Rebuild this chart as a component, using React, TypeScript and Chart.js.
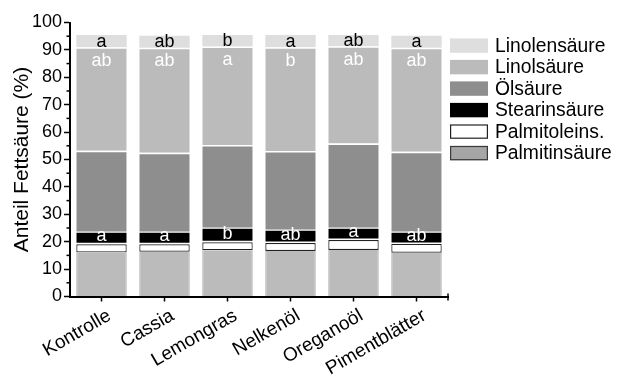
import React, { useEffect, useRef } from 'react';
import { Chart, registerables } from 'chart.js';

Chart.register(...registerables);

const FONT = "'Liberation Sans', Arial, Helvetica, sans-serif";

// ---- data ----
const categories = ['Kontrolle', 'Cassia', 'Lemongras', 'Nelkenöl', 'Oreganoöl', 'Pimentblätter'];
const palmitin = [16.1, 16.35, 16.9, 16.6, 17.0, 16.0];
const palmitolein = [2.95, 2.7, 2.9, 2.9, 3.6, 3.2];
const stearin = [4.6, 4.6, 5.3, 4.9, 4.5, 4.45];
const oelsaeure = [29.5, 28.85, 30.2, 28.7, 30.7, 29.15];
const linolsaeure = [37.8, 38.3, 35.9, 37.9, 35.5, 38.0];
const linolensaeure = [4.5, 4.4, 4.2, 4.4, 4.1, 4.4];

const linolenLetters = ['a', 'ab', 'b', 'a', 'ab', 'a'];
const linolLetters = ['ab', 'ab', 'a', 'b', 'ab', 'ab'];
const stearinLetters = ['a', 'a', 'b', 'ab', 'a', 'ab'];

const yTicks = [0, 10, 20, 30, 40, 50, 60, 70, 80, 90, 100];

const legendItems = [
  { label: 'Linolensäure', fill: '#dedede', stroke: '#dedede' },
  { label: 'Linolsäure', fill: '#bbbbbb', stroke: '#bbbbbb' },
  { label: 'Ölsäure', fill: '#8e8e8e', stroke: '#8e8e8e' },
  { label: 'Stearinsäure', fill: '#000000', stroke: '#000000' },
  { label: 'Palmitoleins.', fill: '#ffffff', stroke: '#222222' },
  { label: 'Palmitinsäure', fill: '#a6a6a6', stroke: '#3a3a3a' },
];

const letterPlugin = {
  id: 'letters',
  afterDatasetsDraw(chart: any) {
    const ctx = chart.ctx;
    ctx.save();
    ctx.font = `18px ${FONT}`;
    ctx.textAlign = 'center';
    ctx.textBaseline = 'alphabetic';
    const drawSet = (dsIndex: number, letters: string[], color: string, yFn: (el: any) => number) => {
      const meta = chart.getDatasetMeta(dsIndex);
      ctx.fillStyle = color;
      meta.data.forEach((el: any, i: number) => {
        ctx.fillText(letters[i], el.x, yFn(el));
      });
    };
    drawSet(5, linolenLetters, '#000', (el) => el.base - 0.5);
    drawSet(4, linolLetters, '#fff', (el) => el.y + 18.5);
    drawSet(2, stearinLetters, '#fff', (el) => el.base - 3);
    ctx.restore();
  },
};

const axisExtrasPlugin = {
  id: 'axisExtras',
  afterDraw(chart: any) {
    const ctx = chart.ctx;
    const y = chart.scales.y;
    const area = chart.chartArea;
    ctx.save();
    ctx.strokeStyle = '#000';
    ctx.lineWidth = 1.5;
    for (let i = 0; i < yTicks.length - 1; i++) {
      const v = (yTicks[i] + yTicks[i + 1]) / 2;
      const py = y.getPixelForValue(v);
      ctx.beginPath();
      ctx.moveTo(area.left - 3.5, py);
      ctx.lineTo(area.left, py);
      ctx.stroke();
    }
    // end cap of x axis
    ctx.beginPath();
    ctx.moveTo(area.right, area.bottom - 3);
    ctx.lineTo(area.right, area.bottom + 4);
    ctx.stroke();

    // legend
    const boxX = 450;
    const boxW = 38;
    const boxH = 14.4;
    ctx.font = `19.3px ${FONT}`;
    ctx.textAlign = 'left';
    ctx.textBaseline = 'alphabetic';
    legendItems.forEach((it, i) => {
      const top = 38.4 + i * 21.5;
      ctx.fillStyle = it.fill;
      ctx.fillRect(boxX, top, boxW, boxH);
      if (it.stroke !== it.fill) {
        ctx.strokeStyle = it.stroke;
        ctx.lineWidth = 1.2;
        ctx.strokeRect(boxX + 0.6, top + 0.6, boxW - 1.2, boxH - 1.2);
      }
      ctx.fillStyle = '#000';
      ctx.fillText(it.label, 495, top + 13.4);
    });
    ctx.restore();
  },
};

export default function App() {
  const ref = useRef<HTMLCanvasElement>(null);

  useEffect(() => {
    const canvas = ref.current;
    if (!canvas) return;
    const chart = new Chart(canvas, {
      type: 'bar',
      data: {
        labels: categories,
        datasets: [
          {
            label: 'Palmitinsäure',
            data: palmitin,
            backgroundColor: '#bbbbbb',
            borderColor: '#a2a2a2',
            borderWidth: { left: 1, right: 1, top: 0, bottom: 0 },
            borderSkipped: false,
          },
          {
            label: 'Palmitoleins.',
            data: palmitolein,
            backgroundColor: '#ffffff',
            borderColor: '#222222',
            borderWidth: 1.2,
            borderSkipped: false,
          },
          {
            label: 'Stearinsäure',
            data: stearin,
            backgroundColor: '#000000',
            borderColor: '#ffffff',
            borderWidth: { top: 1, bottom: 1.5, left: 0, right: 0 },
            borderSkipped: false,
          },
          {
            label: 'Ölsäure',
            data: oelsaeure,
            backgroundColor: '#8e8e8e',
            borderColor: '#ffffff',
            borderWidth: { top: 1.5, bottom: 0, left: 0, right: 0 },
            borderSkipped: false,
          },
          {
            label: 'Linolsäure',
            data: linolsaeure,
            backgroundColor: '#bbbbbb',
            borderColor: '#ffffff',
            borderWidth: { top: 1.5, bottom: 0, left: 0, right: 0 },
            borderSkipped: false,
          },
          {
            label: 'Linolensäure',
            data: linolensaeure,
            backgroundColor: '#dedede',
            borderColor: '#ffffff',
            borderWidth: { top: 0, bottom: 0, left: 0, right: 0 },
            borderSkipped: false,
          },
        ],
      },
      options: {
        responsive: false,
        animation: false,
        devicePixelRatio: 1,
        categoryPercentage: 1,
        barPercentage: 0.8,
        layout: { padding: { top: 22.5, right: 169, left: 0, bottom: 0 } },
        plugins: {
          legend: { display: false },
          tooltip: { enabled: false },
        },
        scales: {
          x: {
            stacked: true,
            offset: true,
            grid: {
              display: true,
              drawOnChartArea: false,
              drawTicks: true,
              tickLength: 5,
              tickColor: '#000',
              tickWidth: 1.5,
              offset: false,
            },
            border: { display: true, color: '#000', width: 2 },
            ticks: {
              color: '#000',
              font: { family: FONT, size: 19 },
              minRotation: 30,
              maxRotation: 30,
              labelOffset: 8,
              padding: 3,
              autoSkip: false,
            },
            afterFit: (s: any) => {
              s.height = 79.5;
            },
          },
          y: {
            stacked: true,
            min: 0,
            max: 100,
            ticks: {
              stepSize: 10,
              color: '#000',
              font: { family: FONT, size: 18 },
              padding: 2,
            },
            grid: {
              display: true,
              drawOnChartArea: false,
              drawTicks: true,
              tickLength: 6,
              tickColor: '#000',
              tickWidth: 1.5,
            },
            border: { display: true, color: '#000', width: 2 },
            title: {
              display: true,
              text: 'Anteil Fettsäure (%)',
              color: '#000',
              font: { family: FONT, size: 21 },
              padding: { top: 10, bottom: 0 },
            },
            afterFit: (s: any) => {
              s.width = 70;
            },
          },
        },
      },
      plugins: [letterPlugin, axisExtrasPlugin],
    });
    return () => chart.destroy();
  }, []);

  return (
    <div style={{ position: 'fixed', left: 0, top: 0, width: 617, height: 376, background: '#ffffff' }}>
      <canvas ref={ref} width={617} height={376} style={{ width: 617, height: 376, display: 'block' }} />
    </div>
  );
}
